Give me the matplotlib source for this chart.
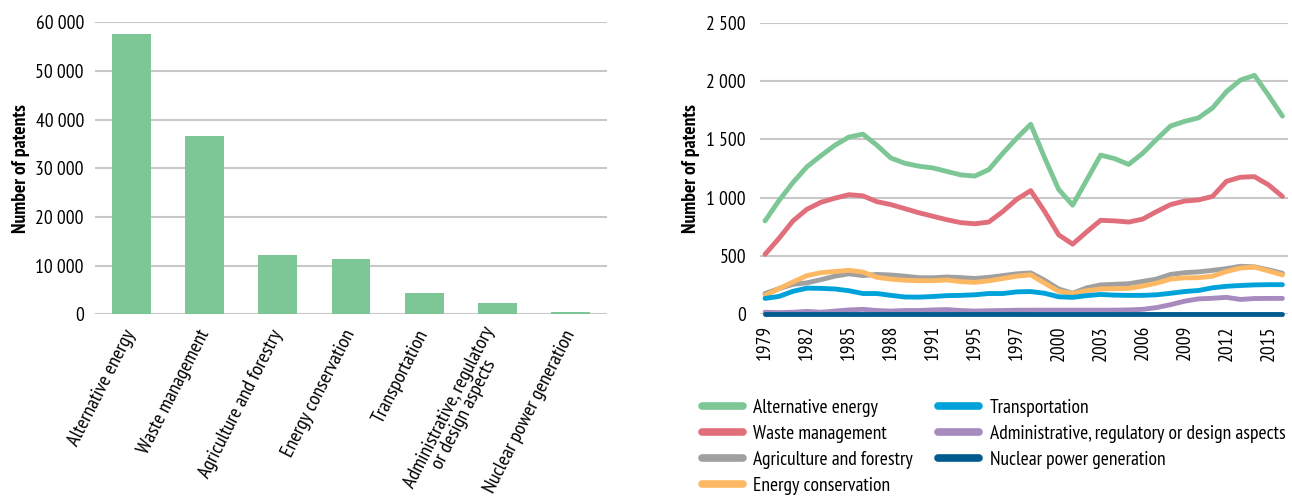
import matplotlib
matplotlib.use('Agg')
import matplotlib.pyplot as plt
from matplotlib.ticker import FuncFormatter
import numpy as np
import logging

logging.getLogger('matplotlib.font_manager').setLevel(logging.ERROR)
plt.rcParams['font.family'] = ['PT Sans Narrow', 'Fira Sans Condensed', 'Roboto Condensed',
                               'Archivo Narrow', 'Asap Condensed', 'Liberation Sans', 'DejaVu Sans']

# 左图：各领域专利总数
categories = ['Alternative energy', 'Waste management', 'Agriculture and forestry',
              'Energy conservation', 'Transportation',
              'Administrative, regulatory\nor design aspects', 'Nuclear power generation']
totals = [57600, 36600, 12200, 11300, 4400, 2300, 500]

# 右图：按年份的专利数（38 个点，每 3 个点标一个年份）
year_ticks = ['1979', '1982', '1985', '1988', '1991', '1995', '1997',
              '2000', '2003', '2006', '2009', '2012', '2015']

alternative = [800, 975, 1130, 1265, 1360, 1450, 1520, 1545, 1450, 1340, 1295, 1270, 1255,
               1225, 1195, 1185, 1240, 1380, 1510, 1630, 1340, 1070, 935, 1150, 1365, 1335,
               1285, 1380, 1500, 1615, 1655, 1685, 1770, 1910, 2010, 2050, 1880, 1700]
waste = [513, 650, 800, 900, 960, 995, 1025, 1015, 965, 940, 905, 870, 840, 810, 785, 775,
         790, 880, 985, 1060, 880, 680, 600, 705, 805, 800, 790, 815, 880, 940, 970, 980,
         1010, 1140, 1175, 1180, 1110, 1010]
agriculture = [176, 218, 255, 268, 295, 325, 345, 330, 340, 335, 325, 312, 311, 318, 313, 305,
               315, 330, 345, 353, 290, 215, 178, 225, 250, 255, 260, 280, 300, 340, 355, 362,
               375, 390, 410, 405, 380, 350]
energy_cons = [160, 218, 275, 330, 355, 365, 375, 360, 315, 300, 290, 286, 286, 292, 278, 272,
               285, 305, 325, 336, 265, 195, 176, 200, 215, 218, 220, 240, 265, 300, 311, 312,
               325, 365, 395, 403, 370, 336]
transport = [134, 151, 195, 222, 220, 215, 200, 176, 176, 160, 146, 145, 150, 158, 160, 165,
             176, 176, 190, 193, 178, 148, 143, 158, 168, 162, 160, 160, 165, 178, 193, 202,
             225, 238, 245, 250, 252, 252]
admin = [15, 12, 15, 22, 15, 25, 35, 40, 30, 25, 30, 30, 35, 38, 30, 25, 28, 30, 32, 33, 33,
         33, 33, 33, 33, 33, 35, 40, 55, 80, 110, 130, 135, 143, 125, 133, 134, 134]
nuclear = [3, 3, 3, 3, 3, 3, 3, 3, 3, 3, 3, 3, 3, 3, 3, 3, 3, 3, 3, 3, 3, 3, 3, 3, 3, 3, 3,
           3, 3, 3, 3, 3, 3, 3, 3, 3, 3, 3]

series = [
    ('Alternative energy', alternative, '#7DC797'),
    ('Waste management', waste, '#E06F7B'),
    ('Agriculture and forestry', agriculture, '#A0A0A0'),
    ('Energy conservation', energy_cons, '#FDB863'),
    ('Transportation', transport, '#00A3D9'),
    ('Administrative, regulatory or design aspects', admin, '#A78BBF'),
    ('Nuclear power generation', nuclear, '#005B8E'),
]

W, H = 1292, 499
fig = plt.figure(figsize=(W / 100, H / 100), dpi=100)

def spaced(v, pos):
    return f"{int(round(v)):,}".replace(',', ' ')

grid_color = '#C8C8C8'

# ---- 左图 ----
ax1 = fig.add_axes([95 / W, 1 - 314.3 / H, 512 / W, 292 / H])
x1 = np.arange(len(categories))
ax1.bar(x1, totals, width=0.53, color='#7DC797', zorder=2)
ax1.set_xlim(-0.5, len(categories) - 0.5)
ax1.set_ylim(0, 60000)
ax1.set_yticks(np.arange(0, 60001, 10000))
ax1.yaxis.set_major_formatter(FuncFormatter(spaced))
ax1.grid(axis='y', color=grid_color, linewidth=1.5, zorder=0)
ax1.set_axisbelow(True)
ax1.set_xticks(x1)
ax1.set_xticklabels(categories, rotation=63, ha='right', va='center', rotation_mode='anchor',
                    fontsize=14.5, multialignment='center', linespacing=0.85)
ax1.tick_params(axis='both', length=0)
ax1.tick_params(axis='y', labelsize=14, pad=8)
ax1.tick_params(axis='x', pad=12)
ax1.set_ylabel('Number of patents', fontsize=14, fontweight='bold')
ax1.yaxis.set_label_coords(-0.127, 0.5)
for s in ax1.spines.values():
    s.set_visible(False)

# ---- 右图 ----
ax2 = fig.add_axes([760 / W, 1 - 314 / H, 528 / W, 291 / H])
x2 = np.arange(len(alternative))
for label, vals, color in series:
    ax2.plot(x2, vals, color=color, linewidth=3.5, label=label, clip_on=False,
             solid_capstyle='round', solid_joinstyle='round', zorder=3)
ax2.set_xlim(-0.36, len(x2) - 0.6)
ax2.set_ylim(0, 2500)
ax2.set_yticks(np.arange(0, 2501, 500))
ax2.yaxis.set_major_formatter(FuncFormatter(spaced))
ax2.grid(axis='y', color=grid_color, linewidth=1.5, zorder=0)
ax2.set_axisbelow(True)
ax2.set_xticks(np.arange(0, len(x2), 3))
ax2.set_xticklabels(year_ticks, rotation=90)
ax2.tick_params(axis='both', length=0, labelsize=14)
ax2.tick_params(axis='x', pad=8)
ax2.tick_params(axis='y', pad=10)
ax2.set_ylabel('Number of patents', fontsize=14, fontweight='bold')
ax2.yaxis.set_label_coords(-0.114, 0.5)
for s in ax2.spines.values():
    s.set_visible(False)

handles, labels = ax2.get_legend_handles_labels()
leg = fig.legend(handles, labels, loc='upper left', ncol=2,
                 bbox_to_anchor=(694 / W, 1 - 391 / H), frameon=False,
                 fontsize=14, handlelength=2.1, handletextpad=0.55,
                 labelspacing=0.42, columnspacing=1.3, borderaxespad=0)
for line in leg.get_lines():
    line.set_linewidth(5.5)

plt.savefig('out.png', dpi=100, facecolor='white')
plt.close()
